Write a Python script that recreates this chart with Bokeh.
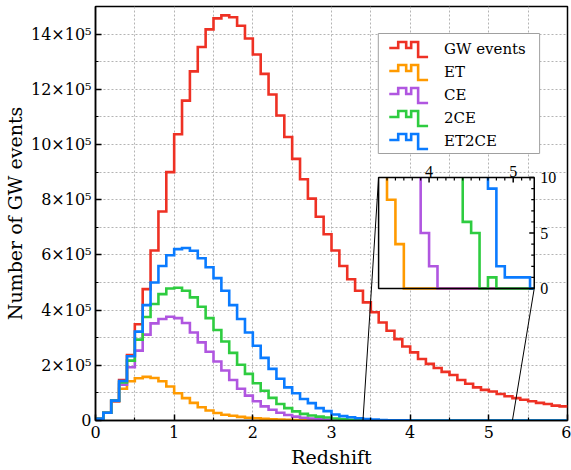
from bokeh.plotting import figure
from bokeh.models import Range1d, FixedTicker, Legend, LegendItem, ColumnDataSource
from bokeh.embed import file_html
from bokeh.resources import INLINE

# ---------------- data ----------------
bin_left = [0.0, 0.1, 0.2, 0.3, 0.4, 0.5, 0.6, 0.7, 0.8, 0.9,
            1.0, 1.1, 1.2, 1.3, 1.4, 1.5, 1.6, 1.7, 1.8, 1.9,
            2.0, 2.1, 2.2, 2.3, 2.4, 2.5, 2.6, 2.7, 2.8, 2.9,
            3.0, 3.1, 3.2, 3.3, 3.4, 3.5, 3.6, 3.7, 3.8, 3.9,
            4.0, 4.1, 4.2, 4.3, 4.4, 4.5, 4.6, 4.7, 4.8, 4.9,
            5.0, 5.1, 5.2, 5.3, 5.4, 5.5, 5.6, 5.7, 5.8, 5.9]
bin_width = 0.1

gw_events = [6000, 28000, 72000, 147000, 237000, 349000, 476000, 616000, 757000, 900000,
             1037000, 1159000, 1265000, 1353000, 1417000, 1457000, 1468000, 1461000, 1430000, 1384000,
             1326000, 1256000, 1181000, 1105000, 1027000, 948000, 874000, 804000, 738000, 675000,
             616000, 560000, 512000, 470000, 428000, 392000, 355000, 325000, 295000, 268000,
             247000, 223000, 205000, 190000, 176000, 165000, 147000, 133000, 120000, 111000,
             105000, 96000, 88000, 81000, 75000, 70000, 64000, 60000, 54000, 51000]

et = [6000, 28000, 68000, 115000, 142000, 153000, 158000, 154000, 142000, 123000,
      99000, 81000, 64000, 48000, 36000, 27000, 21000, 17000, 13000, 10000,
      8000, 6000, 4500, 3500, 2500, 1800, 1200, 800, 500, 250,
      120, 60, 35, 20, 12, 8, 4, 0, 0, 0,
      0, 0, 0, 0, 0, 0, 0, 0, 0, 0,
      0, 0, 0, 0, 0, 0, 0, 0, 0, 0]

ce = [6000, 28000, 70000, 130000, 193000, 253000, 311000, 352000, 368000, 376000,
      371000, 353000, 319000, 283000, 249000, 214000, 181000, 147000, 115000, 90000,
      70000, 51000, 39000, 28000, 20000, 14000, 10000, 7000, 4500, 2800,
      1700, 1000, 550, 300, 150, 80, 45, 25, 14, 5,
      2, 0, 0, 0, 0, 0, 0, 0, 0, 0,
      0, 0, 0, 0, 0, 0, 0, 0, 0, 0]

two_ce = [6000, 28000, 72000, 138000, 217000, 293000, 375000, 422000, 458000, 478000,
          481000, 470000, 446000, 412000, 371000, 328000, 286000, 245000, 202000, 169000,
          135000, 108000, 82000, 60000, 45000, 33000, 24000, 18000, 14000, 11000,
          7000, 4200, 2500, 1400, 800, 450, 250, 140, 80, 50,
          30, 20, 14, 11, 6, 5, 0, 1, 0, 0,
          0, 0, 0, 0, 0, 0, 0, 0, 0, 0]

et2ce = [6000, 28000, 72000, 143000, 233000, 322000, 418000, 500000, 560000, 599000,
         621000, 625000, 615000, 588000, 555000, 516000, 470000, 418000, 368000, 319000,
         271000, 227000, 187000, 151000, 120000, 99000, 78000, 63000, 45000, 34000,
         22000, 16000, 12000, 8000, 5000, 3000, 1800, 1000, 600, 350,
         200, 120, 70, 40, 25, 15, 11, 9, 2, 1,
         1, 1, 0, 0, 0, 0, 0, 0, 0, 0]

series_names = ["GW events", "ET", "CE", "2CE", "ET2CE"]
series_values = [gw_events, et, ce, two_ce, et2ce]
series_colors = ["#EE3124", "#FF9A00", "#B056E0", "#2ECC40", "#0A7BFF"]

x_ticks = [0, 1, 2, 3, 4, 5, 6]
x_minor = [0.5, 1.5, 2.5, 3.5, 4.5, 5.5]
y_ticks = [0, 200000, 400000, 600000, 800000, 1000000, 1200000, 1400000]
y_minor = [100000, 300000, 500000, 700000, 900000, 1100000, 1300000, 1500000]
y_tick_labels = ["0", "2×10⁵", "4×10⁵", "6×10⁵", "8×10⁵", "10×10⁵", "12×10⁵", "14×10⁵"]

inset_x_ticks = [4, 5]
inset_x_tick_labels = ["4", "5"]
inset_x_minor = [3.5, 3.6, 3.7, 3.8, 3.9, 4.1, 4.2, 4.3, 4.4, 4.5, 4.6, 4.7, 4.8, 4.9, 5.1, 5.2]
inset_y_ticks = [0, 5, 10]
inset_y_tick_labels = ["0", "5", "10"]
inset_y_minor = [1, 2, 3, 4, 6, 7, 8, 9]
inset_x_range = (3.4, 5.25)
inset_y_range = (0, 10)
zoom_from = (3.4, 5.3)   # redshift span on the main axis that the inset magnifies

FONT = "DejaVu Serif"

# ---------------- layout (pixels) ----------------
W, H = 571, 470
BL, BR, BT, BB = 93, 4, 6, 50
FRAME_W, FRAME_H = W - BL - BR, H - BT - BB
X_MAX, Y_MAX = 6.0, 1.5e6

def px_to_data(px, py):
    """page pixel -> main data coordinates (frame is fixed by the borders above)"""
    return (px - BL) / FRAME_W * X_MAX, (BT + FRAME_H - py) / FRAME_H * Y_MAX

INSET_PX = (377.3, 533.6, 177, 288)          # left, right, top, bottom
LEG_PX = (373, 151)                          # legend text block left, bottom (location)
LEG_BOX_PX = (377, 539, 33, 153)             # visible legend box: left, right, top, bottom
LEG_PAD, LEG_ROW, LEG_SP = 4, 21, 2
LABEL_X = 446
ICON_X0, ICON_CY0 = 388, 47.5
ICON_SHAPE = [(0, 0), (9, 0), (9, -6), (17, -6), (17, 0), (22, 0), (22, -6), (29, -6), (29, 9), (39, 9)]

p = figure(width=W, height=H,
           x_range=Range1d(0, X_MAX), y_range=Range1d(0, Y_MAX),
           output_backend="svg", toolbar_location=None,
           min_border_left=BL, min_border_right=BR, min_border_top=BT, min_border_bottom=BB)
p.background_fill_color = "white"
p.border_fill_color = "white"
p.outline_line_color = "black"
p.outline_line_width = 1.5

for ax in (p.xaxis[0], p.yaxis[0]):
    ax.axis_line_width = 1.5
    ax.axis_line_color = "black"
    ax.major_tick_line_width = 1.5
    ax.minor_tick_line_width = 1.2
    ax.major_tick_in = 6
    ax.major_tick_out = 0
    ax.minor_tick_in = 3
    ax.minor_tick_out = 0
    ax.major_label_text_font = FONT
    ax.major_label_text_font_size = "16px"
    ax.major_label_text_color = "black"
    ax.axis_label_text_font = FONT
    ax.axis_label_text_font_style = "normal"
    ax.axis_label_text_color = "black"
    ax.axis_label_text_font_size = "19px"

p.xaxis.ticker = FixedTicker(ticks=x_ticks, minor_ticks=x_minor)
p.yaxis.ticker = FixedTicker(ticks=y_ticks, minor_ticks=y_minor)
p.yaxis.major_label_overrides = {v: s for v, s in zip(y_ticks, y_tick_labels)}
p.xaxis.axis_label = "Redshift"
p.yaxis.axis_label = "Number of GW events"
p.xaxis.major_label_standoff = 5
p.xaxis.axis_label_standoff = 5
p.yaxis.major_label_standoff = 4
p.yaxis.axis_label_standoff = 2

for g in (p.xgrid[0], p.ygrid[0]):
    g.grid_line_color = "#b4b4b4"
    g.grid_line_dash = "2 2"
    g.grid_line_width = 1
    g.minor_grid_line_color = "#b4b4b4"
    g.minor_grid_line_dash = "2 2"
    g.minor_grid_line_width = 1

x_steps = bin_left + [bin_left[-1] + bin_width]
renderers = []
for name, vals, col in zip(series_names, series_values, series_colors):
    src = ColumnDataSource(dict(x=x_steps, y=list(vals) + [vals[-1]]))
    r = p.step("x", "y", source=src, mode="after", line_color=col, line_width=2.6,
               line_join="miter")
    renderers.append(r)

# ---------------- legend ----------------
# box (white, grey border) drawn as a glyph so that step-shaped icons can sit on it
bx0, by0 = px_to_data(LEG_BOX_PX[0], LEG_BOX_PX[3])
bx1, by1 = px_to_data(LEG_BOX_PX[1], LEG_BOX_PX[2])
p.quad(left=[bx0], right=[bx1], bottom=[by0], top=[by1],
       fill_color="white", line_color="#a0a0a0", line_width=1)

n_items = len(series_names)
icon_xs, icon_ys = [], []
for i in range(n_items):
    cy = ICON_CY0 + i * (LEG_ROW + LEG_SP)
    pts = [px_to_data(ICON_X0 + dx, cy + dy) for dx, dy in ICON_SHAPE]
    icon_xs.append([q[0] for q in pts])
    icon_ys.append([q[1] for q in pts])
p.multi_line(xs="xs", ys="ys", line_color="c", line_width=2.6, line_join="miter",
             source=ColumnDataSource(dict(xs=icon_xs, ys=icon_ys, c=series_colors)))

legend = Legend(items=[LegendItem(label=n, renderers=[r]) for n, r in zip(series_names, renderers)],
                location=(LEG_PX[0] - BL, BT + FRAME_H - LEG_PX[1]))
legend.label_text_font = FONT
legend.label_text_font_size = "15px"
legend.label_text_color = "black"
legend.border_line_color = None
legend.background_fill_alpha = 0
legend.glyph_width = 0
legend.glyph_height = LEG_ROW
legend.label_height = LEG_ROW
legend.label_standoff = LABEL_X - LEG_PX[0] - LEG_PAD
legend.padding = LEG_PAD
legend.spacing = LEG_SP
legend.margin = 0
p.add_layout(legend)

# ---------------- inset (sub-coordinates inside the main frame) ----------------
x_in_left, y_in_top = px_to_data(INSET_PX[0], INSET_PX[2])
x_in_right, y_in_bottom = px_to_data(INSET_PX[1], INSET_PX[3])

p.segment(x0=[zoom_from[0], zoom_from[1]], y0=[0, 0],
          x1=[x_in_left, x_in_right], y1=[y_in_top, y_in_bottom],
          line_color="black", line_width=1)

sub = p.subplot(x_source=Range1d(*inset_x_range), y_source=Range1d(*inset_y_range),
                x_target=Range1d(x_in_left, x_in_right), y_target=Range1d(y_in_bottom, y_in_top))

ix0, ix1 = inset_x_range
iy0, iy1 = inset_y_range
sub.quad(left=[ix0], right=[ix1], bottom=[iy0], top=[iy1], fill_color="white", line_color=None)

def inset_paths(vals):
    """Step path of one histogram, clipped to the inset window."""
    pts = []
    for xl, v in zip(bin_left, vals):
        xr = xl + bin_width
        if xr <= ix0 + 1e-9 or xl >= ix1 - 1e-9:
            continue
        a, b = max(xl, ix0), min(xr, ix1)
        vc = min(v, iy1)
        pts.append((a, vc, v > iy1))
        pts.append((b, vc, v > iy1))
    xs, ys = [], []
    cx, cy = [], []
    for k in range(len(pts) - 1):
        (xa, ya, ca), (xb, yb, cb) = pts[k], pts[k + 1]
        if ca and cb:
            if len(cx) > 1:
                xs.append(cx); ys.append(cy)
            cx, cy = [], []
            continue
        if not cx:
            cx, cy = [xa], [ya]
        cx.append(xb); cy.append(yb)
    if len(cx) > 1:
        xs.append(cx); ys.append(cy)
    return xs, ys

for vals, col in zip(series_values, series_colors):
    xs, ys = inset_paths(vals)
    if xs:
        sub.multi_line(xs=xs, ys=ys, line_color=col, line_width=2.6, line_join="miter")

sub.quad(left=[ix0], right=[ix1], bottom=[iy0], top=[iy1], fill_color=None,
         line_color="black", line_width=1.5)

IN_W_PX = INSET_PX[1] - INSET_PX[0]
IN_H_PX = INSET_PX[3] - INSET_PX[2]
dx_px = (ix1 - ix0) / IN_W_PX
dy_px = (iy1 - iy0) / IN_H_PX
sub.segment(x0=inset_x_ticks, y0=[iy1] * len(inset_x_ticks),
            x1=inset_x_ticks, y1=[iy1 - 5 * dy_px] * len(inset_x_ticks),
            line_color="black", line_width=1.5)
sub.segment(x0=inset_x_minor, y0=[iy1] * len(inset_x_minor),
            x1=inset_x_minor, y1=[iy1 - 3 * dy_px] * len(inset_x_minor),
            line_color="black", line_width=1.2)
sub.segment(x0=[ix1] * len(inset_y_ticks), y0=inset_y_ticks,
            x1=[ix1 - 5 * dx_px] * len(inset_y_ticks), y1=inset_y_ticks,
            line_color="black", line_width=1.5)
sub.segment(x0=[ix1] * len(inset_y_minor), y0=inset_y_minor,
            x1=[ix1 - 3 * dx_px] * len(inset_y_minor), y1=inset_y_minor,
            line_color="black", line_width=1.2)

sub.text(x=inset_x_ticks, y=[iy1] * len(inset_x_ticks), text=inset_x_tick_labels,
         text_align="center", text_baseline="bottom", y_offset=-1,
         text_font=FONT, text_font_size="16px", text_color="black")
sub.text(x=[ix1] * len(inset_y_ticks), y=inset_y_ticks, text=inset_y_tick_labels,
         text_align="left", text_baseline="middle", x_offset=6,
         text_font=FONT, text_font_size="16px", text_color="black")

open("out.html", "w").write(file_html(p, INLINE))
